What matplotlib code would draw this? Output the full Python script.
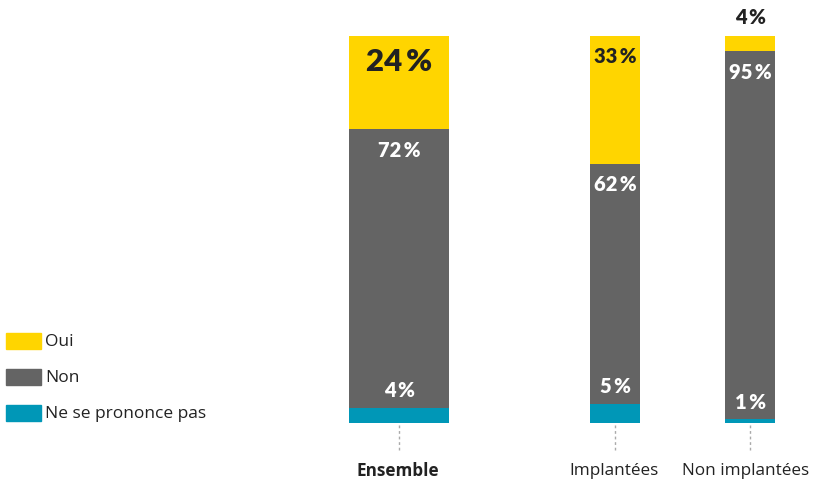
import matplotlib
matplotlib.use('Agg')
import matplotlib.pyplot as plt
import matplotlib.patches as mpatches

categories = ['Ensemble', 'Implantées', 'Non implantées']
oui = [24, 33, 4]
non = [72, 62, 95]
nsp = [4, 5, 1]
series_names = ['Oui', 'Non', 'Ne se prononce pas']

YELLOW = '#FFD500'
GREY = '#646464'
TEAL = '#0097B7'

# bar geometry in pixel-like x units
xpos = [399, 615, 750]
widths = [100, 50, 50]
label_x = [398, 614, 746]

fig = plt.figure(figsize=(8.13, 4.82), dpi=100)
ax = fig.add_axes([0, 0, 1, 1])
ax.set_xlim(0, 813)
ax.set_ylim(-15.25, 109.3)
ax.axis('off')

ax.bar(xpos, nsp, width=widths, color=TEAL)
ax.bar(xpos, non, width=widths, bottom=nsp, color=GREY)
bott = [a + b for a, b in zip(nsp, non)]
ax.bar(xpos, oui, width=widths, bottom=bott, color=YELLOW)

pct = lambda v: '{}\u2009%'.format(v)
fam = ['Lato', 'DejaVu Sans']
W = 'heavy'

# oui labels
ax.text(xpos[0], 100 - 6.7, pct(oui[0]), ha='center', va='center', fontsize=22.5,
        fontweight=W, color='#222222', family=fam)
ax.text(xpos[1], 100 - 5.4, pct(oui[1]), ha='center', va='center', fontsize=14.5,
        fontweight=W, color='#222222', family=fam)
ax.text(xpos[2], 100 + 4.9, pct(oui[2]), ha='center', va='center', fontsize=14.5,
        fontweight=W, color='#222222', family=fam)

# non labels near top of grey segment
for x, n, b in zip(xpos, non, nsp):
    ax.text(x, b + n - 5.5, pct(n), ha='center', va='center', fontsize=14.5,
            fontweight=W, color='white', family=fam)

# nsp labels just above teal segment, inside grey
for x, v in zip(xpos, nsp):
    ax.text(x, v + 4.4, pct(v), ha='center', va='center', fontsize=14.5,
            fontweight=W, color='white', family=fam)

# dotted leader lines and category labels
for i, (x, lx, c) in enumerate(zip(xpos, label_x, categories)):
    ax.plot([x, x], [-0.6, -7.5], color='#aaaaaa', lw=1, ls=(0, (2, 2)))
    ax.text(lx, -12.3, c, ha='center', va='center', fontsize=12.3,
            fontweight='bold' if i == 0 else 'normal', color='#222222',
            family=['Open Sans', 'DejaVu Sans'])

# legend drawn by hand (axes fraction coords)
tr = ax.transAxes
for k, (col, name) in enumerate(zip((YELLOW, GREY, TEAL), series_names)):
    ytop = 333 + k * 36
    ax.add_patch(mpatches.Rectangle((6 / 813, 1 - (ytop + 16) / 482), 35 / 813, 16 / 482,
                                    color=col, transform=tr))
    ax.text(45 / 813, 1 - (ytop + 9) / 482, name, transform=tr, ha='left', va='center',
            fontsize=12.5, color='#222222', family=['Open Sans', 'DejaVu Sans'])

fig.savefig('out.png', dpi=100)
